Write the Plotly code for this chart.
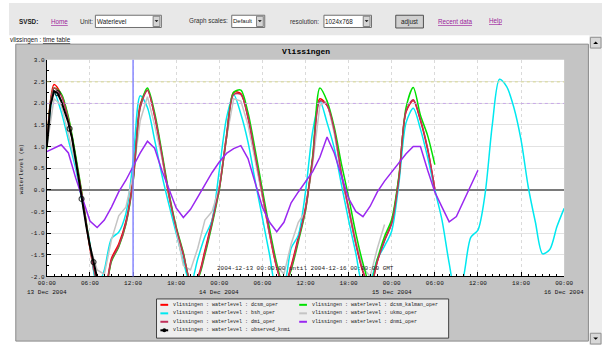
import pandas as pd
import plotly.graph_objects as go

# ---------------------------------------------------------------- data
START = "2004-12-13 00:00"
END = "2004-12-16 00:00"

# hourly water levels (m), starting at START
dcsm_oper = [1.0, 2.43, 2.2, 1.65, 0.75, -0.25, -1.35, -2.15, -2.3, -1.58,
             -1.25, -0.73, 0.26, 1.97, 2.3, 1.7, 0.8, -0.15, -0.9, -1.5,
             -2.1, -2.0, -1.4, -0.7, 0.05, 1.25, 2.25, 2.22, 1.66, 0.75,
             -0.14, -1.03, -1.8, -2.25, -1.76, -1.1, -0.41, 0.74, 2.1, 1.95,
             1.36, 0.35, -0.45, -1.25, -1.9, -2.25, -1.65, -1.16, -0.75, 0.28,
             1.8, 2.06, 1.6, 0.93, 0.02]

dcsm_kalman_oper = [0.95, 2.35, 2.22, 1.68, 0.8, -0.2, -1.3, -2.1, -2.35, -1.65,
                    -1.32, -0.8, 0.18, 1.92, 2.35, 1.78, 0.88, -0.08, -0.85, -1.45,
                    -2.1, -2.05, -1.5, -0.8, 0.0, 1.2, 2.25, 2.3, 1.78, 0.92,
                    0.0, -0.9, -1.7, -2.25, -1.85, -1.2, -0.48, 0.78, 2.35, 2.05,
                    1.45, 0.6, -0.17, -1.0, -1.7, -2.2, -1.6, -1.08, -0.68, 0.32,
                    1.9, 2.36, 1.72, 1.25, 0.58]

bsh_oper = [1.0, 2.25, 1.8, 1.15, 0.5, -0.35, -1.25, -2.25, -1.85, -1.12,
            -0.98, -0.55, 0.65, 2.17, 1.9, 1.15, 0.35, -0.35, -1.0, -1.65,
            -2.2, -1.6, -1.08, -0.7, 0.45, 1.65, 2.2, 1.75, 1.1, 0.2,
            -0.65, -1.5, -2.3, -2.2, -1.35, -1.05, -0.05, 1.35, 2.05, 1.55,
            0.96, 0.12, -0.7, -1.46, -2.2, -2.1, -1.6, -1.3, -0.95, 0.15,
            1.55, 1.88, 1.4, 0.75, 0.0, -0.7, -1.7, -2.5, -2.0, -1.1,
            -0.93, -0.09, 1.5, 2.55, 2.38, 1.9, 1.15, 0.07, -0.75, -1.48,
            -1.38, -0.85, -0.43]

dmi_oper = [0.98, 2.35, 2.18, 1.62, 0.72, -0.22, -1.32, -2.12, -2.35, -1.62,
            -1.3, -0.78, 0.2, 1.9, 2.3, 1.72, 0.82, -0.12, -0.88, -1.48,
            -2.08, -2.02, -1.45, -0.75, 0.02, 1.2, 2.2, 2.2, 1.68, 0.8,
            -0.1, -1.0, -1.78, -2.28, -1.8, -1.15, -0.45, 0.7, 2.05, 1.95,
            1.38, 0.38, -0.42, -1.22, -1.88, -2.25, -1.65, -1.18, -0.78, 0.25,
            1.82, 2.08, 1.62, 0.95, 0.0]

ukmo_oper = [1.0, 2.1, 1.95, 1.3, 0.6, -0.3, -1.3, -1.85, -1.95, -1.15,
             -0.6, -0.4, 0.35, 1.6, 2.15, 1.5, 0.75, -0.1, -0.95, -1.75,
             -1.85, -1.35, -0.7, -0.5, 0.05, 1.2, 2.1, 2.05, 1.5, 0.7,
             -0.15, -1.0, -1.75, -1.95, -1.25, -0.75, -0.5, 0.6, 1.95, 2.05,
             1.3, 0.35, -0.45, -1.2, -1.8, -2.0, -1.35, -0.8]

dnmi_oper = [0.88, 0.96, 1.04, 0.85, 0.28, -0.22, -0.72, -0.87, -0.7, -0.4,
             -0.05, 0.22, 0.55, 0.85, 1.12, 0.96, 0.45, 0.0, -0.42, -0.64,
             -0.45, -0.17, 0.13, 0.4, 0.64, 0.84, 0.95, 1.02, 0.72, 0.15,
             -0.4, -0.75, -0.97, -0.75, -0.3, -0.05, 0.2, 0.42, 0.75, 1.22,
             0.85, 0.3, -0.2, -0.5, -0.62, -0.38, -0.05, 0.2, 0.41, 0.62,
             0.83, 1.0, 1.0, 0.45, -0.05, -0.4, -0.74, -0.62, -0.25, 0.1,
             0.45]

# observations (irregular times, marked samples get a symbol)
obs_times = ["00:00", "00:30", "01:00", "01:30", "02:00", "02:30", "03:00",
             "03:10", "03:30", "04:00", "04:30", "04:50", "05:00", "05:30",
             "06:00", "06:30", "07:00", "07:30"]
observed_knmi = [1.0, 1.95, 2.28, 2.23, 2.05, 1.8, 1.55, 1.41, 1.2, 0.7,
                 0.15, -0.21, -0.38, -0.85, -1.3, -1.67, -2.05, -2.4]
obs_marked = ["01:30", "03:10", "04:50", "06:30"]

x_tick_labels = ["00:00", "06:00", "12:00", "18:00"] * 3 + ["00:00"]
date_labels = ["13 Dec 2004", "14 Dec 2004", "15 Dec 2004", "16 Dec 2004"]
y_tick_values = [-2.0, -1.5, -1.0, -0.5, 0.0, 0.5, 1.0, 1.5, 2.0, 2.5, 3.0]
y_tick_labels = ["-2.0", "-1.5", "-1.0", "-0.5", "0.0", "0.5", "1.0", "1.5",
                 "2.0", "2.5", "3.0"]

series = [
    ("vlissingen : waterlevel : dcsm_oper", dcsm_oper, "#ff0000", "spline"),
    ("vlissingen : waterlevel : bsh_oper", bsh_oper, "#00e8f0", "spline"),
    ("vlissingen : waterlevel : ukmo_oper", ukmo_oper, "#c4c4c4", "linear"),
    ("vlissingen : waterlevel : dcsm_kalman_oper", dcsm_kalman_oper, "#00e000", "spline"),
    ("vlissingen : waterlevel : dmi_oper", dmi_oper, "#c0305a", "spline"),
    ("vlissingen : waterlevel : dnmi_oper", dnmi_oper, "#9a28f0", "linear"),
]
legend_rows = [
    ("vlissingen : waterlevel : dcsm_oper", "#ff0000"),
    ("vlissingen : waterlevel : bsh_oper", "#00e8f0"),
    ("vlissingen : waterlevel : dmi_oper", "#c0305a"),
    ("vlissingen : waterlevel : observed_knmi", "#000000"),
    ("vlissingen : waterlevel : dcsm_kalman_oper", "#00e000"),
    ("vlissingen : waterlevel : ukmo_oper", "#c4c4c4"),
    ("vlissingen : waterlevel : dnmi_oper", "#9a28f0"),
]

# ---------------------------------------------------------------- page geometry
W, H = 611, 349
PL, PR, PT, PB = 39, 572, 58, 279   # plot box in page pixels


def fx(px):
    return px / W


def fy(py):
    return 1 - py / H


MONO = "Liberation Mono, DejaVu Sans Mono, monospace"
SANS = "Arial, Liberation Sans, sans-serif"

fig = go.Figure()

for name, vals, color, shape in series:
    fig.add_trace(go.Scatter(
        x=pd.date_range(START, periods=len(vals), freq="h"), y=vals,
        mode="lines", name=name,
        line=dict(color=color, width=1.5, shape=shape, smoothing=0.8),
        showlegend=False, hoverinfo="skip"))

obs_x = pd.to_datetime(["2004-12-13 " + t for t in obs_times])
fig.add_trace(go.Scatter(
    x=obs_x, y=observed_knmi, mode="lines+markers",
    name="vlissingen : waterlevel : observed_knmi",
    line=dict(color="#000000", width=2),
    marker=dict(symbol="circle-open", color="#000000",
                size=[5 if t in obs_marked else 0 for t in obs_times],
                line=dict(width=1.2)),
    showlegend=False, hoverinfo="skip"))

shapes = []
annotations = []


def rect(x0, y0, x1, y1, fill, line=None, lw=1, layer="below"):
    shapes.append(dict(type="rect", xref="paper", yref="paper",
                       x0=fx(x0), x1=fx(x1), y0=fy(y1), y1=fy(y0),
                       fillcolor=fill, layer=layer,
                       line=dict(color=line or fill, width=lw if line else 0)))


def hline(x0, x1, y, color, width=1, dash="solid", layer="above"):
    shapes.append(dict(type="line", xref="paper", yref="paper",
                       x0=fx(x0), x1=fx(x1), y0=fy(y), y1=fy(y),
                       line=dict(color=color, width=width, dash=dash), layer=layer))


def text(x, y, s, size, family=SANS, color="#000000", xanchor="left",
         yanchor="middle", angle=0):
    annotations.append(dict(xref="paper", yref="paper", x=fx(x), y=fy(y),
                            text=s, showarrow=False, xanchor=xanchor,
                            yanchor=yanchor, textangle=angle, borderpad=0,
                            borderwidth=0,
                            font=dict(family=family, size=size, color=color)))


def tri_down(cx, cy, s, color="#000000"):
    shapes.append(dict(type="path", xref="paper", yref="paper", layer="above",
                       path=f"M {fx(cx - s)} {fy(cy - s / 2)} L {fx(cx + s)} {fy(cy - s / 2)} "
                            f"L {fx(cx)} {fy(cy + s / 2)} Z",
                       fillcolor=color, line=dict(width=0)))


def tri_up(cx, cy, s, color="#000000"):
    shapes.append(dict(type="path", xref="paper", yref="paper", layer="above",
                       path=f"M {fx(cx - s)} {fy(cy + s / 2)} L {fx(cx + s)} {fy(cy + s / 2)} "
                            f"L {fx(cx)} {fy(cy - s / 2)} Z",
                       fillcolor=color, line=dict(width=0)))


# ---- header bar
HF = 6.3
HY = 18.5
rect(0, 0, W, 33, "#e8e8e8")
text(10, HY, "<b>SVSD:</b>", HF, color="#202020")
LINK = "#9a1a9a"
text(43, HY, '<span style="text-decoration:underline">Home</span>', HF, color=LINK)
text(73, HY, "Unit:", HF, color="#303030")


def select(x0, x1, label, size=HF):
    rect(x0, 12.5, x1, 25, "#ffffff", line="#707070", lw=1, layer="above")
    rect(x1 - 8.5, 13.5, x1 - 1.5, 24, "#d4d4d4", line="#808080", lw=1, layer="above")
    tri_down(x1 - 5, HY, 2)
    text(x0 + 1.5, HY, label, size, color="#202020")


select(89, 157, "Waterlevel")
text(185, HY, "Graph scales:", HF, color="#303030")
select(229.5, 263.5, "Default", 6.0)
text(290, HY, "resolution:", HF, color="#303030")
select(324.5, 373.5, "1024x768")
rect(398.5, 12.5, 427, 25.5, "#d0d0d0", line="#505050", lw=1, layer="above")
text(412.7, HY + 0.5, "adjust", HF, color="#202020", xanchor="center")
text(442, HY, '<span style="text-decoration:underline">Recent data</span>', HF, color=LINK)
text(495, HY, '<span style="text-decoration:underline">Help</span>', HF, color=LINK)

# ---- sub header
text(1, 38, 'vlissingen : <span style="text-decoration:underline">time table</span>',
     HF, color="#202020")

# ---- chart panel and plot box
rect(7, 42, 597, 345, "#c4c4c4", line="#8a8a8a", lw=1)
rect(PL, PT, PR, PB, "#ffffff")

# ---- scrollbar
rect(598, 33, W, H, "#ececec")
rect(599, 35, 610, 46, "#d8d8d8", line="#909090", lw=1, layer="above")
tri_up(604.5, 40.5, 2.5)
rect(599, 337, 610, 348, "#d8d8d8", line="#909090", lw=1, layer="above")
tri_down(604.5, 342.5, 2.5)

# ---- level marks
hline(PL, PR, 80.5, "#d8d890", 1, "dot")
hline(PL, PR, 102.5, "#c8a8e8", 1, "dot")

# ---- titles inside the panel
text((PL + PR) / 2, 50, "<b>Vlissingen</b>", 8, family=MONO, xanchor="center")
text((PL + PR) / 2, 271, "2004-12-13 00:00:00 until 2004-12-16 00:00:00 GMT", 6,
     family=MONO, color="#202020", xanchor="center")
text(13, 170, "waterlevel (m)", 6, family=MONO, color="#202020",
     xanchor="center", angle=-90)

# date labels under midnight ticks
for i, lab in enumerate(date_labels):
    annotations.append(dict(xref="x", yref="paper",
                            x=pd.Timestamp(START) + pd.Timedelta(days=i),
                            y=fy(295), text=lab, showarrow=False,
                            xanchor="center", yanchor="middle", borderpad=0,
                            font=dict(family=MONO, size=6, color="#101010")))

# ---- legend box
rect(152, 302, 453, 342, "#eeeeee", line="#404040", lw=1, layer="above")
row_y = [308, 316.7, 325.3, 334]
for i, (lab, col) in enumerate(legend_rows):
    c = i // 4
    r = i % 4
    lx = 156 if c == 0 else 299
    tx = 169 if c == 0 else 312
    hline(lx, lx + 8, row_y[r], col, 2)
    if "observed" in lab:
        shapes.append(dict(type="circle", xref="paper", yref="paper", layer="above",
                           x0=fx(lx + 2), x1=fx(lx + 6), y0=fy(row_y[r] + 2),
                           y1=fy(row_y[r] - 2), fillcolor="#000000",
                           line=dict(width=0)))
    text(tx, row_y[r], lab, 5, family=MONO, color="#202020")

# 12:00 marker line
shapes.append(dict(type="line", xref="x", yref="paper",
                   x0=pd.Timestamp(START) + pd.Timedelta(hours=12),
                   x1=pd.Timestamp(START) + pd.Timedelta(hours=12),
                   y0=fy(PB), y1=fy(PT), line=dict(color="#8888ff", width=1.5),
                   layer="above"))

x_ticks = pd.date_range(START, END, freq="6h")

fig.update_layout(
    width=W, height=H, margin=dict(l=0, r=0, t=0, b=0),
    paper_bgcolor="#ffffff", plot_bgcolor="#ffffff",
    shapes=shapes, annotations=annotations,
    xaxis=dict(type="date", range=[START, END], domain=[fx(PL), fx(PR)],
               tickvals=x_ticks, ticktext=x_tick_labels,
               tickfont=dict(family=MONO, size=6, color="#101010"),
               ticks="inside", ticklen=4, tickcolor="#000000",
               showgrid=True, gridcolor="#dadada", griddash="dot",
               minor=dict(dtick=3600000, ticks="inside", ticklen=2,
                          tickcolor="#000000", showgrid=False),
               showline=True, linecolor="#000000", linewidth=1,
               zeroline=False, fixedrange=True),
    yaxis=dict(range=[-2, 3], domain=[fy(PB), fy(PT)],
               tickvals=y_tick_values, ticktext=y_tick_labels,
               tickfont=dict(family=MONO, size=6, color="#101010"),
               ticks="inside", ticklen=4, tickcolor="#000000",
               minor=dict(dtick=0.25, ticks="inside", ticklen=2,
                          tickcolor="#000000", showgrid=False),
               showgrid=True, gridcolor="#e2e2e2",
               zeroline=True, zerolinecolor="#7a7a7a", zerolinewidth=1.5,
               showline=True, linecolor="#000000", linewidth=1,
               fixedrange=True),
)

fig.write_html("out.html", config={"displayModeBar": False},
               post_script="document.body.style.margin='0';")
